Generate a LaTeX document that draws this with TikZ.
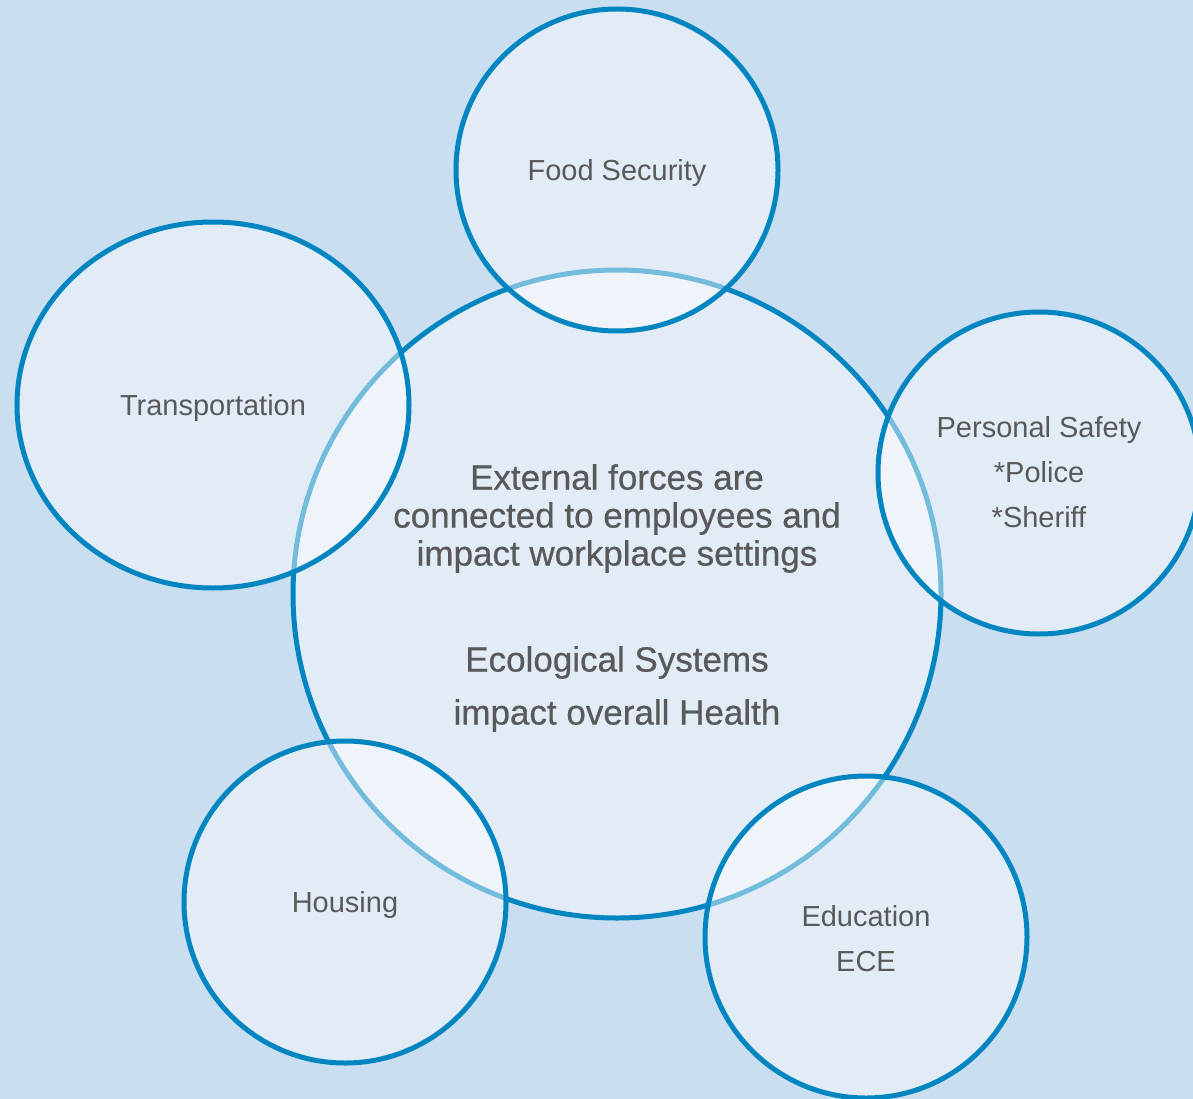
\documentclass[tikz,border=0pt]{standalone}
\usepackage{fontspec}
\setmainfont{Liberation Sans}
\newfontfamily\medfont[FakeBold=0.6]{Liberation Sans}
\usetikzlibrary{shapes.geometric}
\definecolor{bgblue}{RGB}{202,222,241}
\definecolor{ringblue}{RGB}{0,133,193}
\definecolor{txtgray}{RGB}{89,89,89}
\begin{document}
\begin{tikzpicture}[x=1pt,y=-1pt,
  ring/.style={draw=ringblue, line width=5pt, fill=white, fill opacity=0.45,
    draw opacity=1, inner sep=0pt},
  smallring/.style={ring, circle, minimum size=322pt},
  bigring/.style={ring, circle, minimum size=648pt},
  ovalring/.style={ring, ellipse, minimum width=392pt, minimum height=366pt},
  smalltxt/.style={text=txtgray, align=center, inner sep=0pt, font=\fontsize{29}{45}\selectfont},
  bigtxt/.style={text=txtgray, align=center, inner sep=0pt, font=\medfont\fontsize{35}{38}\selectfont}
]
\useasboundingbox (0,0) rectangle (1193,1099);
\clip (0,0) rectangle (1193,1099);
\fill[bgblue] (0,0) rectangle (1193,1099);
\node[bigring] (center) at (617,594) {};
\node[smallring] (food) at (617,170) {};
\node[ovalring] (transport) at (213,405) {};
\node[smallring] (safety) at (1039,473) {};
\node[smallring] (housing) at (345,902) {};
\node[smallring] (education) at (866,937) {};
\node[bigtxt] (centertxt) at (617,598)
  {External forces are\\connected to employees and\\impact workplace settings\\[68pt]
   Ecological Systems\\[15pt]impact overall Health};
\node[smalltxt] (foodtxt) at (617,173) {Food Security};
\node[smalltxt] (transporttxt) at (213,408) {Transportation};
\node[smalltxt] (safetytxt) at (1039,472) {Personal Safety\\*Police\\*Sheriff};
\node[smalltxt] (housingtxt) at (345,905) {Housing};
\node[smalltxt] (educationtxt) at (866,939) {Education\\ECE};
\end{tikzpicture}
\end{document}
